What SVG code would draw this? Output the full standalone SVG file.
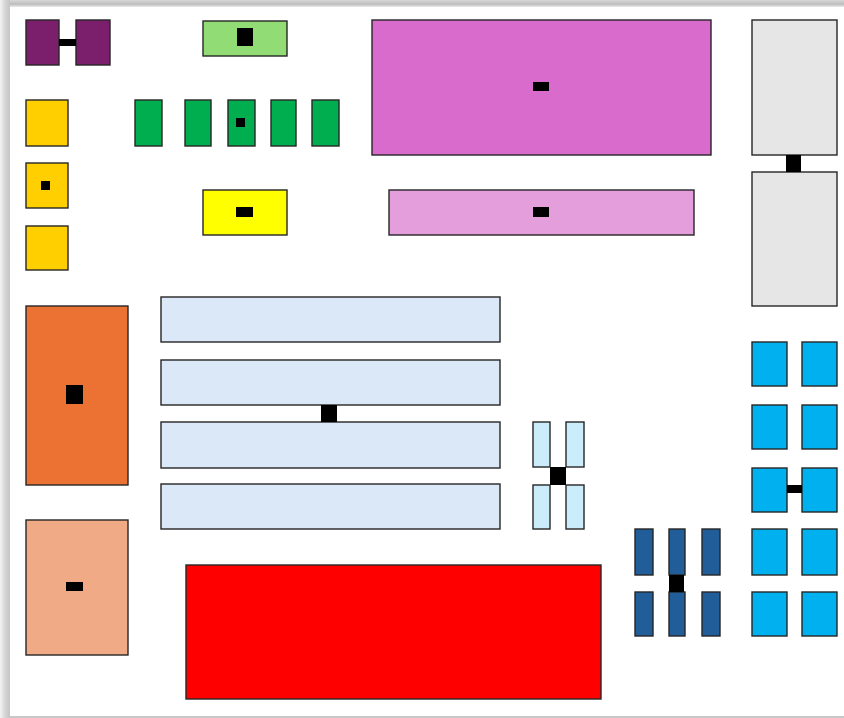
<svg xmlns="http://www.w3.org/2000/svg" width="844" height="718" viewBox="0 0 844 718">
<defs>
<linearGradient id="gTop" x1="0" y1="0" x2="0" y2="1"><stop offset="0" stop-color="#d8d8d8"/><stop offset="0.6" stop-color="#bdbdbd"/><stop offset="1" stop-color="#ececec"/></linearGradient>
<linearGradient id="gLeft" x1="0" y1="0" x2="1" y2="0"><stop offset="0" stop-color="#f4f4f4"/><stop offset="0.5" stop-color="#d6d6d6"/><stop offset="1" stop-color="#c4c4c4"/></linearGradient>
<style>
rect.n{stroke:#262626;stroke-width:1.4}
rect.k{fill:#000}
.purple{fill:#7b1f6c}.lgreen{fill:#92dc76}.gold{fill:#ffcf00}.green{fill:#00ad4f}
.yellow{fill:#ffff00}.mag{fill:#d86bcc}.pink{fill:#e49edc}.gray{fill:#e6e6e6}
.orange{fill:#eb7232}.peach{fill:#f0aa86}.lblue{fill:#dae8f7}.red{fill:#ff0000}
.cyanl{fill:#cbecfa}.dblue{fill:#215d99}.cyan{fill:#00b0ef}
</style>
</defs>
<rect x="0" y="0" width="844" height="718" fill="#ffffff"/>
<rect x="0" y="0" width="844" height="7" fill="url(#gTop)"/>
<rect x="0" y="0" width="10" height="718" fill="url(#gLeft)"/>
<rect x="10" y="716" width="834" height="2" fill="#c8c8c8"/>

<g id="purple-pair">
<rect class="n purple" x="26" y="20" width="33" height="45"/>
<rect class="n purple" x="76" y="20" width="34" height="45"/>
<rect class="k" x="59" y="39" width="17" height="7"/>
</g>
<g id="lightgreen">
<rect class="n lgreen" x="203" y="21" width="84" height="35"/>
<rect class="k" x="237" y="28" width="16" height="18"/>
</g>
<g id="gold-squares">
<rect class="n gold" x="26" y="100" width="42" height="46"/>
<rect class="n gold" x="26" y="163" width="42" height="45"/>
<rect class="n gold" x="26" y="226" width="42" height="44"/>
<rect class="k" x="41" y="181" width="9" height="9"/>
</g>
<g id="green-row">
<rect class="n green" x="135" y="100" width="27" height="46"/>
<rect class="n green" x="185" y="100" width="26" height="46"/>
<rect class="n green" x="228" y="100" width="27" height="46"/>
<rect class="n green" x="271" y="100" width="25" height="46"/>
<rect class="n green" x="312" y="100" width="27" height="46"/>
<rect class="k" x="236" y="118" width="9" height="9"/>
</g>
<g id="yellow">
<rect class="n yellow" x="203" y="190" width="84" height="45"/>
<rect class="k" x="236" y="207" width="17" height="10"/>
</g>
<g id="magenta">
<rect class="n mag" x="372" y="20" width="339" height="135"/>
<rect class="k" x="533" y="82" width="16" height="9"/>
</g>
<g id="pink">
<rect class="n pink" x="389" y="190" width="305" height="45"/>
<rect class="k" x="533" y="207" width="16" height="10"/>
</g>
<g id="gray-pair">
<rect class="n gray" x="752" y="20" width="85" height="135"/>
<rect class="n gray" x="752" y="172" width="85" height="134"/>
<rect class="k" x="786" y="155" width="15" height="17"/>
</g>
<g id="orange">
<rect class="n orange" x="26" y="306" width="102" height="179"/>
<rect class="k" x="66" y="385" width="17" height="19"/>
</g>
<g id="peach">
<rect class="n peach" x="26" y="520" width="102" height="135"/>
<rect class="k" x="66" y="582" width="17" height="9"/>
</g>
<g id="lightblue-strips">
<rect class="n lblue" x="161" y="297" width="339" height="45"/>
<rect class="n lblue" x="161" y="360" width="339" height="45"/>
<rect class="n lblue" x="161" y="422" width="339" height="46"/>
<rect class="n lblue" x="161" y="484" width="339" height="45"/>
<rect class="k" x="321" y="405" width="16" height="17"/>
</g>
<g id="red">
<rect class="n red" x="186" y="565" width="415" height="134"/>
</g>
<g id="cyan-light-cross">
<rect class="n cyanl" x="533" y="422" width="17" height="45"/>
<rect class="n cyanl" x="566" y="422" width="18" height="45"/>
<rect class="n cyanl" x="533" y="485" width="17" height="44"/>
<rect class="n cyanl" x="566" y="485" width="18" height="44"/>
<rect class="k" x="550" y="467" width="16" height="18"/>
</g>
<g id="darkblue">
<rect class="n dblue" x="635" y="529" width="18" height="46"/>
<rect class="n dblue" x="669" y="529" width="16" height="46"/>
<rect class="n dblue" x="702" y="529" width="18" height="46"/>
<rect class="n dblue" x="635" y="592" width="18" height="44"/>
<rect class="n dblue" x="669" y="592" width="16" height="44"/>
<rect class="n dblue" x="702" y="592" width="18" height="44"/>
<rect class="k" x="669" y="575" width="15" height="17"/>
</g>
<g id="cyan-grid">
<rect class="n cyan" x="752" y="342" width="35" height="44"/>
<rect class="n cyan" x="802" y="342" width="35" height="44"/>
<rect class="n cyan" x="752" y="405" width="35" height="44"/>
<rect class="n cyan" x="802" y="405" width="35" height="44"/>
<rect class="n cyan" x="752" y="468" width="35" height="44"/>
<rect class="n cyan" x="802" y="468" width="35" height="44"/>
<rect class="n cyan" x="752" y="529" width="35" height="46"/>
<rect class="n cyan" x="802" y="529" width="35" height="46"/>
<rect class="n cyan" x="752" y="592" width="35" height="44"/>
<rect class="n cyan" x="802" y="592" width="35" height="44"/>
<rect class="k" x="787" y="485" width="15" height="8"/>
</g>
<g id="connectors"></g>
</svg>
